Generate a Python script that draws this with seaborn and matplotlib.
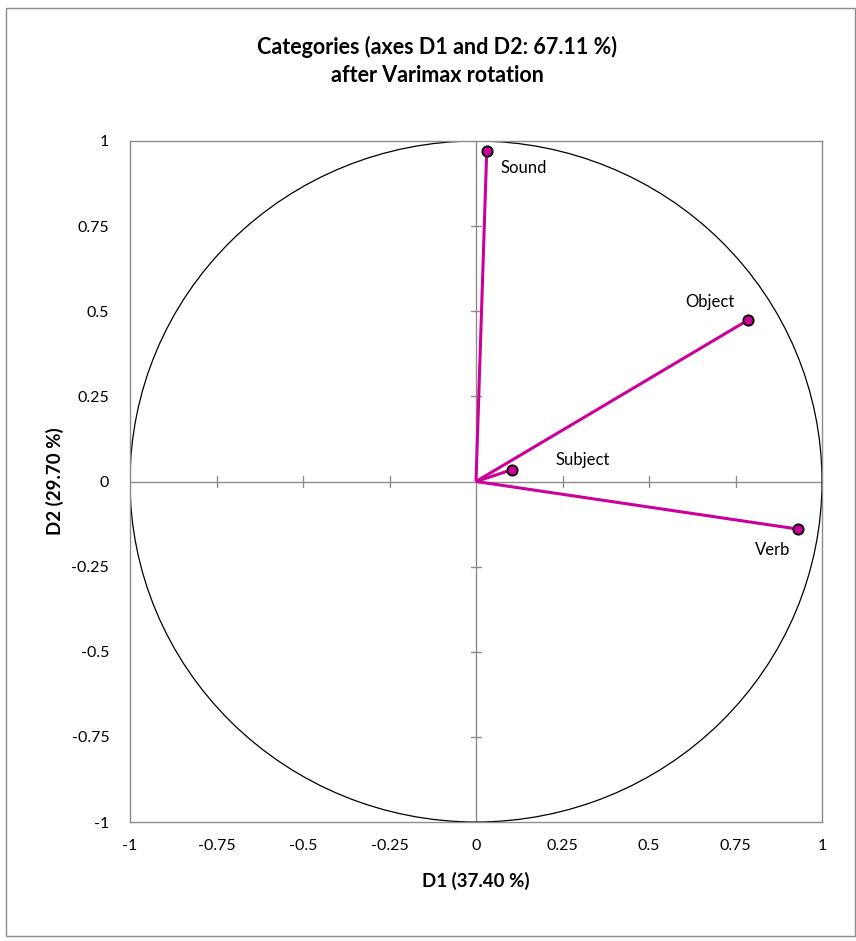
import numpy as np
import pandas as pd
import matplotlib
matplotlib.use("Agg")
import matplotlib.pyplot as plt
from matplotlib.patches import Circle, Rectangle
import seaborn as sns

# Variable coordinates on the rotated factor axes
variables = ["Sound", "Object", "Subject", "Verb"]
d1 = [0.031, 0.786, 0.105, 0.932]
d2 = [0.971, 0.474, 0.035, -0.140]
label_offsets = [(10, -12), (-10, 13), (31, 7), (-6, -15)]
label_align = ["left", "right", "left", "right"]

ticks = [-1, -0.75, -0.5, -0.25, 0, 0.25, 0.5, 0.75, 1]
tick_labels = ["-1", "-0.75", "-0.5", "-0.25", "0", "0.25", "0.5", "0.75", "1"]

title = "Categories (axes D1 and D2: 67.11 %)\nafter Varimax rotation"
xlabel = "D1 (37.40 %)"
ylabel = "D2 (29.70 %)"

sns.set_theme(style="white")
plt.rcParams["font.family"] = ["Lato", "DejaVu Sans"]
plt.rcParams["text.color"] = "black"
plt.rcParams["axes.labelcolor"] = "black"

df = pd.DataFrame({"variable": variables, "D1": d1, "D2": d2})

W, H = 856, 941
fig = plt.figure(figsize=(W / 100, H / 100), dpi=100)
ax = fig.add_axes([130 / W, 1 - 822 / H, (822 - 130) / W, (822 - 141) / H])

frame_col = "#8c8c8c"
accent = "#cc0099"

# correlation circle
ax.add_patch(Circle((0, 0), 1, fill=False, edgecolor="black", linewidth=0.9, zorder=2))

# central axes with crossing tick marks
ax.axhline(0, color=frame_col, linewidth=1.0, zorder=1)
ax.axvline(0, color=frame_col, linewidth=1.0, zorder=1)
tl = 0.015
for t in ticks:
    if t in (-1, 0, 1):
        continue
    ax.plot([t, t], [-tl, tl], color=frame_col, linewidth=1.0, zorder=1)
    ax.plot([-tl, tl], [t, t], color=frame_col, linewidth=1.0, zorder=1)

# vectors from origin
for x, y in zip(df["D1"], df["D2"]):
    ax.plot([0, x], [0, y], color=accent, linewidth=2.2, zorder=3, solid_capstyle="butt")

sns.scatterplot(data=df, x="D1", y="D2", ax=ax, color=accent, edgecolor="black",
                linewidth=1.3, s=55, zorder=4, legend=False)

for name, x, y, off, ha in zip(variables, d1, d2, label_offsets, label_align):
    ax.annotate(name, (x, y), xytext=off, textcoords="offset points",
                ha=ha, va="center", fontsize=12, color="black")

ax.set_xlim(-1, 1)
ax.set_ylim(-1, 1)
ax.set_xticks(ticks)
ax.set_yticks(ticks)
ax.set_xticklabels(tick_labels, fontsize=11.5)
ax.set_yticklabels(tick_labels, fontsize=11.5)
ax.tick_params(axis="both", length=0, pad=12, colors="black")
ax.tick_params(axis="y", pad=15)
for sp in ax.spines.values():
    sp.set_color(frame_col)
    sp.set_linewidth(1.0)

ax.set_xlabel(xlabel, fontsize=13.5, fontweight="bold", labelpad=14)
ax.set_ylabel(ylabel, fontsize=13.5, fontweight="bold", labelpad=5)

fig.text(437 / W, 1 - 61 / H, title, ha="center", va="center", fontsize=15.5,
         fontweight="bold", linespacing=1.45, color="black")

# chart-area border
fig.patches.append(Rectangle((6 / W, 1 - 936 / H), (W - 7) / W, (936 - 8) / H,
                             transform=fig.transFigure, fill=False,
                             edgecolor=frame_col, linewidth=1.0))

fig.savefig("out.png", dpi=100)
